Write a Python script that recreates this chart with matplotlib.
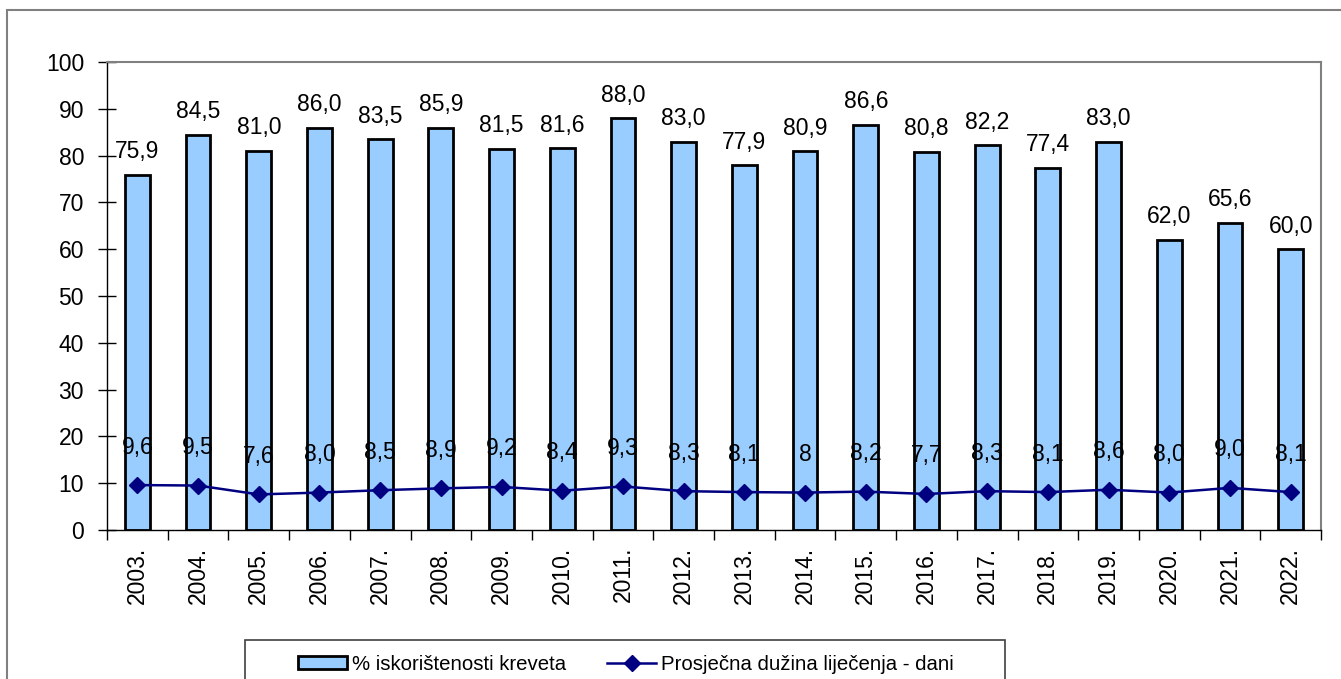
import matplotlib.pyplot as plt
from matplotlib.patches import Rectangle
from matplotlib.lines import Line2D
import numpy as np

plt.rcParams['font.family'] = ['Liberation Sans', 'DejaVu Sans']

years = ["2003.", "2004.", "2005.", "2006.", "2007.", "2008.", "2009.", "2010.",
         "2011.", "2012.", "2013.", "2014.", "2015.", "2016.", "2017.", "2018.",
         "2019.", "2020.", "2021.", "2022."]
occupancy = [75.9, 84.5, 81.0, 86.0, 83.5, 85.9, 81.5, 81.6, 88.0, 83.0,
             77.9, 80.9, 86.6, 80.8, 82.2, 77.4, 83.0, 62.0, 65.6, 60.0]
stay_days = [9.6, 9.5, 7.6, 8.0, 8.5, 8.9, 9.2, 8.4, 9.3, 8.3,
             8.1, 8.0, 8.2, 7.7, 8.3, 8.1, 8.6, 8.0, 9.0, 8.1]
stay_labels = ["9,6", "9,5", "7,6", "8,0", "8,5", "8,9", "9,2", "8,4", "9,3", "8,3",
               "8,1", "8", "8,2", "7,7", "8,3", "8,1", "8,6", "8,0", "9,0", "8,1"]

bar_name = "% iskorištenosti kreveta"
line_name = "Prosječna dužina liječenja - dani"

W, H = 1341, 679
fig = plt.figure(figsize=(W / 100, H / 100), dpi=100)
ax = fig.add_axes([107 / W, 1 - 530 / H, (1321 - 107) / W, (530 - 62) / H])

FS = 16.5      # numbers
FS_LEG = 14.7  # legend text
bar_color = "#99CCFF"
line_color = "#000080"

x = np.arange(len(years))
ax.bar(x, occupancy, width=0.41, color=bar_color, edgecolor="black", linewidth=2, zorder=2)
ax.plot(x, stay_days, color=line_color, linewidth=1.8, marker="D", markersize=8.5, zorder=3)

for xi, v in zip(x, occupancy):
    ax.annotate(f"{v:.1f}".replace(".", ","), (xi, v), xytext=(0, 23),
                textcoords="offset pixels", ha="center", va="center", fontsize=FS)
for xi, v, lab in zip(x, stay_days, stay_labels):
    ax.annotate(lab, (xi, v), xytext=(0, 38), textcoords="offset pixels",
                ha="center", va="center", fontsize=FS)

ax.set_xlim(-0.5, len(years) - 0.5)
ax.set_ylim(0, 100)
ax.set_yticks(range(0, 101, 10))
ax.tick_params(axis="y", direction="inout", length=13, width=1, labelsize=FS, pad=10)
ax.set_xticks(x)
ax.set_xticklabels(years, rotation=90, fontsize=FS)
ax.tick_params(axis="x", which="major", length=0, pad=12)
ax.set_xticks(np.arange(-0.5, len(years), 1), minor=True)
ax.tick_params(axis="x", which="minor", direction="out", length=7, width=1)

for s in ["top", "right"]:
    ax.spines[s].set_color("#808080")
    ax.spines[s].set_linewidth(1.5)
for s in ["left", "bottom"]:
    ax.spines[s].set_color("black")
    ax.spines[s].set_linewidth(1)

# outer chart border
fig.add_artist(Rectangle((7 / W, -0.1), 1.2, 1 - 10 / H + 0.1, transform=fig.transFigure,
                         fill=False, edgecolor="#808080", linewidth=1.5))
# legend frame
fig.add_artist(Rectangle((245 / W, -0.1), (1005 - 245) / W, 1 - 640 / H + 0.1,
                         transform=fig.transFigure, fill=False, edgecolor="#404040", linewidth=1.2))

handles = [
    Rectangle((0, 0), 1, 1, facecolor=bar_color, edgecolor="black", linewidth=2),
    Line2D([], [], color=line_color, linewidth=1.8, marker="D", markersize=8.5),
]
fig.legend(handles, [bar_name, line_name], loc="center left",
           bbox_to_anchor=(298 / W, 1 - 664 / H), ncol=2, frameon=False,
           fontsize=FS_LEG, borderpad=0, borderaxespad=0, handlelength=2.4,
           handleheight=0.6, handletextpad=0.25, columnspacing=2.0)

fig.savefig("out.png", dpi=100)
